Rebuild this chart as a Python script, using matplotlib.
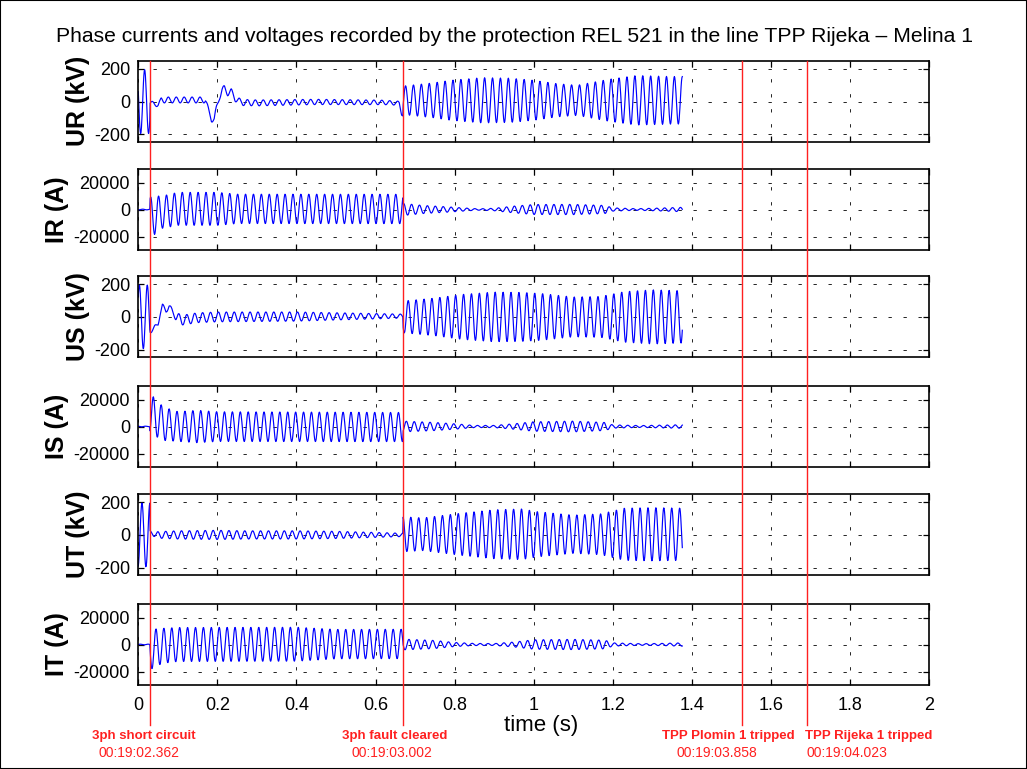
import numpy as np
import matplotlib
matplotlib.use('Agg')
import matplotlib.pyplot as plt
from matplotlib import transforms
from matplotlib.lines import Line2D
from matplotlib.patches import Rectangle
from matplotlib.ticker import FuncFormatter, MultipleLocator

plt.rcParams['font.family'] = ['Liberation Sans', 'DejaVu Sans']
plt.rcParams['axes.unicode_minus'] = False

FREQ = 50.0
DT = 0.001
T_FAULT = 0.030
T_END = 1.377

# events (names + relay time stamps), event times follow from the stamps
event_names = ['3ph short circuit', '3ph fault cleared', 'TPP Plomin 1 tripped', 'TPP Rijeka 1 tripped']
event_stamps = ['00:19:02.362', '00:19:03.002', '00:19:03.858', '00:19:04.023']

channels = ['UR (kV)', 'IR (A)', 'US (kV)', 'IS (A)', 'UT (kV)', 'IT (A)']

# time of positive peak in the first cycle (s)
peak_time = [0.016, 0.0113, 0.0227, 0.018, 0.0093, 0.0047]
pre_amp = [195, 250, 195, 250, 195, 250]

# ---- during the fault: envelope and baseline, read from the record
ur_fault_t = [0.030, 0.055, 0.060, 0.170, 0.200, 0.300, 0.450, 0.600, 0.669]
ur_fault_amp = [12, 12, 18, 18, 20, 18, 16, 14, 12]
ur_off_t = [0.030, 0.040, 0.050, 0.058, 0.170, 0.178, 0.185, 0.192, 0.198, 0.205, 0.212,
            0.218, 0.226, 0.235, 0.245, 0.260, 0.300, 0.450, 0.620, 0.660, 0.666, 0.669]
ur_off = [-5, -15, -20, 10, 10, -60, -105, -110, -40, 30, 70, 80, 55, 60, 20, -5, -8, -2, -5, -10, -70, -80]

ir_fault_t = [0.030, 0.041, 0.060, 0.100, 0.200, 0.250, 0.669]
ir_fault_amp = [14250, 14250, 12000, 12250, 12250, 10900, 10900]
ir_off_t = [0.030, 0.041, 0.060, 0.100, 0.669]
ir_off = [-5000, -4250, -2000, 500, 400]

us_fault_t = [0.030, 0.090, 0.100, 0.200, 0.400, 0.500, 0.669]
us_fault_amp = [15, 15, 30, 30, 28, 22, 12]
us_off_t = [0.030, 0.045, 0.050, 0.055, 0.061, 0.070, 0.078, 0.086, 0.095, 0.110, 0.150, 0.200, 0.669]
us_off = [-85, -60, -40, 20, 65, 40, 65, 35, 0, -20, -5, 0, 5]

is_fault_t = [0.030, 0.040, 0.060, 0.100, 0.150, 0.200, 0.669]
is_fault_amp = [14000, 14000, 12500, 11000, 12000, 11000, 10800]
is_off_t = [0.030, 0.038, 0.050, 0.065, 0.100, 0.669]
is_off = [8000, 8000, 5000, 2000, 0, -400]

ut_fault_t = [0.030, 0.050, 0.100, 0.200, 0.270, 0.400, 0.500, 0.600, 0.669]
ut_fault_amp = [10, 20, 25, 28, 25, 25, 22, 15, 10]
ut_off_t = [0.030, 0.045, 0.669]
ut_off = [15, 0, 0]

it_fault_t = [0.030, 0.040, 0.060, 0.100, 0.400, 0.500, 0.669]
it_fault_amp = [14400, 14400, 13000, 12600, 12600, 10900, 10900]
it_off_t = [0.030, 0.034, 0.060, 0.100, 0.669]
it_off = [-3600, -3600, -1000, 0, 400]

# ---- after clearing: power swing envelope
ur_post_t = [0.669, 0.745, 0.790, 0.870, 0.940, 1.000, 1.060, 1.110, 1.190, 1.260, 1.350, 1.377]
ur_post_amp = [87, 106, 122, 138, 135, 122, 101, 92, 128, 151, 145, 145]
us_post_t = [0.669, 0.750, 0.820, 0.900, 0.970, 1.020, 1.100, 1.170, 1.230, 1.300, 1.377]
us_post_amp = [97, 115, 138, 152, 150, 143, 122, 125, 155, 166, 160]
ut_post_t = [0.669, 0.720, 0.820, 0.900, 0.970, 1.010, 1.100, 1.170, 1.230, 1.300, 1.377]
ut_post_amp = [107, 100, 130, 150, 155, 138, 117, 125, 160, 163, 160]
ir_post_t = [0.669, 0.720, 0.780, 0.820, 0.860, 0.900, 0.950, 1.000, 1.100, 1.180, 1.200, 1.260, 1.300, 1.377]
ir_post_amp = [4500, 3000, 2000, 1200, 500, 900, 2500, 3700, 3800, 3000, 1200, 600, 900, 1600]
is_post_t = [0.669, 0.750, 0.800, 0.850, 0.900, 0.950, 1.000, 1.100, 1.180, 1.200, 1.270, 1.320, 1.377]
is_post_amp = [4000, 3000, 2000, 800, 800, 2000, 3500, 4000, 3000, 1200, 700, 1000, 1300]
it_post_t = [0.669, 0.750, 0.800, 0.850, 0.900, 0.950, 1.000, 1.100, 1.180, 1.200, 1.270, 1.320, 1.377]
it_post_amp = [4000, 3000, 1500, 800, 700, 1800, 3500, 3800, 3200, 1200, 600, 800, 1200]
post_off = [8, 0, 0, 0, 4, 0]

fault_env = [(ur_fault_t, ur_fault_amp, ur_off_t, ur_off), (ir_fault_t, ir_fault_amp, ir_off_t, ir_off),
             (us_fault_t, us_fault_amp, us_off_t, us_off), (is_fault_t, is_fault_amp, is_off_t, is_off),
             (ut_fault_t, ut_fault_amp, ut_off_t, ut_off), (it_fault_t, it_fault_amp, it_off_t, it_off)]
post_env = [(ur_post_t, ur_post_amp), (ir_post_t, ir_post_amp), (us_post_t, us_post_amp),
            (is_post_t, is_post_amp), (ut_post_t, ut_post_amp), (it_post_t, it_post_amp)]


def stamp_to_s(s):
    h, m, sec = s.split(':')
    return int(h) * 3600 + int(m) * 60 + float(sec)


def sestav_signal(t, i, t_clear):
    ft, fa, ot, oo = fault_env[i]
    pt, pa = post_env[i]
    amp = np.where(t < T_FAULT, pre_amp[i],
                   np.where(t < t_clear, np.interp(t, ft, fa), np.interp(t, pt, pa)))
    off = np.where(t < T_FAULT, 0.0,
                   np.where(t < t_clear, np.interp(t, ot, oo), post_off[i]))
    return off + amp * np.cos(2 * np.pi * FREQ * (t - peak_time[i]))


def main():
    t0 = stamp_to_s(event_stamps[0])
    event_t = [T_FAULT + stamp_to_s(s) - t0 for s in event_stamps]
    t = np.arange(0, T_END, DT)

    fig = plt.figure(figsize=(10.27, 7.69), dpi=100)
    W, H = 1027.0, 769.0
    left, right = 138.3, 929.0
    tops = [60.7, 169, 276, 386, 494, 604]
    ax_h = 81.0

    axes = []
    for i, name in enumerate(channels):
        ax = fig.add_axes([left / W, 1 - (tops[i] + ax_h) / H, (right - left) / W, ax_h / H])
        y = sestav_signal(t, i, event_t[1])
        ax.plot(t, y, color='#0000ff', lw=0.85)
        ax.set_xlim(0, 2)
        if 'kV' in name:
            ax.set_ylim(-245, 250)
            ax.set_yticks([-200, 0, 200])
        else:
            ax.set_ylim(-30000, 30000)
            ax.set_yticks([-20000, 0, 20000])
        ax.xaxis.set_major_locator(MultipleLocator(0.2))
        ax.xaxis.set_major_formatter(FuncFormatter(lambda v, p: '%g' % round(v, 2)))
        ax.grid(True, color='black', lw=0.6, linestyle=(0, (4, 14)))
        ax.tick_params(direction='in', top=True, right=True, length=4, width=0.9,
                       labelsize=13, pad=6)
        ax.tick_params(axis='x', pad=9)
        if i < len(channels) - 1:
            ax.tick_params(labelbottom=False)
        for sp in ax.spines.values():
            sp.set_linewidth(1.2)
        ax.set_ylabel(name, fontsize=18, fontweight='bold', labelpad=3)
        axes.append(ax)

    fig.text(515 / W, 1 - 37 / H,
             'Phase currents and voltages recorded by the protection REL 521 in the line TPP Rijeka \u2013 Melina 1',
             ha='center', va='center', fontsize=15.2)
    fig.text(541 / W, 1 - 726 / H, 'time (s)', ha='center', va='center', fontsize=16)

    blend = transforms.blended_transform_factory(axes[-1].transData, fig.transFigure)
    name_dx = [-6.5, -8.7, -13, 62]
    stamp_dx = [-11.5, -11.2, -25, 40]
    for k, te in enumerate(event_t):
        fig.add_artist(Line2D([te, te], [1 - 60.7 / H, 1 - 725 / H], transform=blend,
                              color='#ff2020', lw=1.0))
        axes[-1].annotate(event_names[k], xy=(te, 1 - 736 / H), xycoords=blend,
                          xytext=(name_dx[k], 0), textcoords='offset pixels',
                          ha='center', va='center', color='#ff2020', fontsize=9.5,
                          fontweight='bold', annotation_clip=False)
        axes[-1].annotate(event_stamps[k], xy=(te, 1 - 752.7 / H), xycoords=blend,
                          xytext=(stamp_dx[k], 0), textcoords='offset pixels',
                          ha='center', va='center', color='#ff2020', fontsize=10,
                          annotation_clip=False)

    fig.add_artist(Rectangle((0, 0), 1, 1, transform=fig.transFigure, fill=False,
                             lw=1.5, ec='black'))
    fig.savefig('out.png', dpi=100)


if __name__ == "__main__":
    main()
